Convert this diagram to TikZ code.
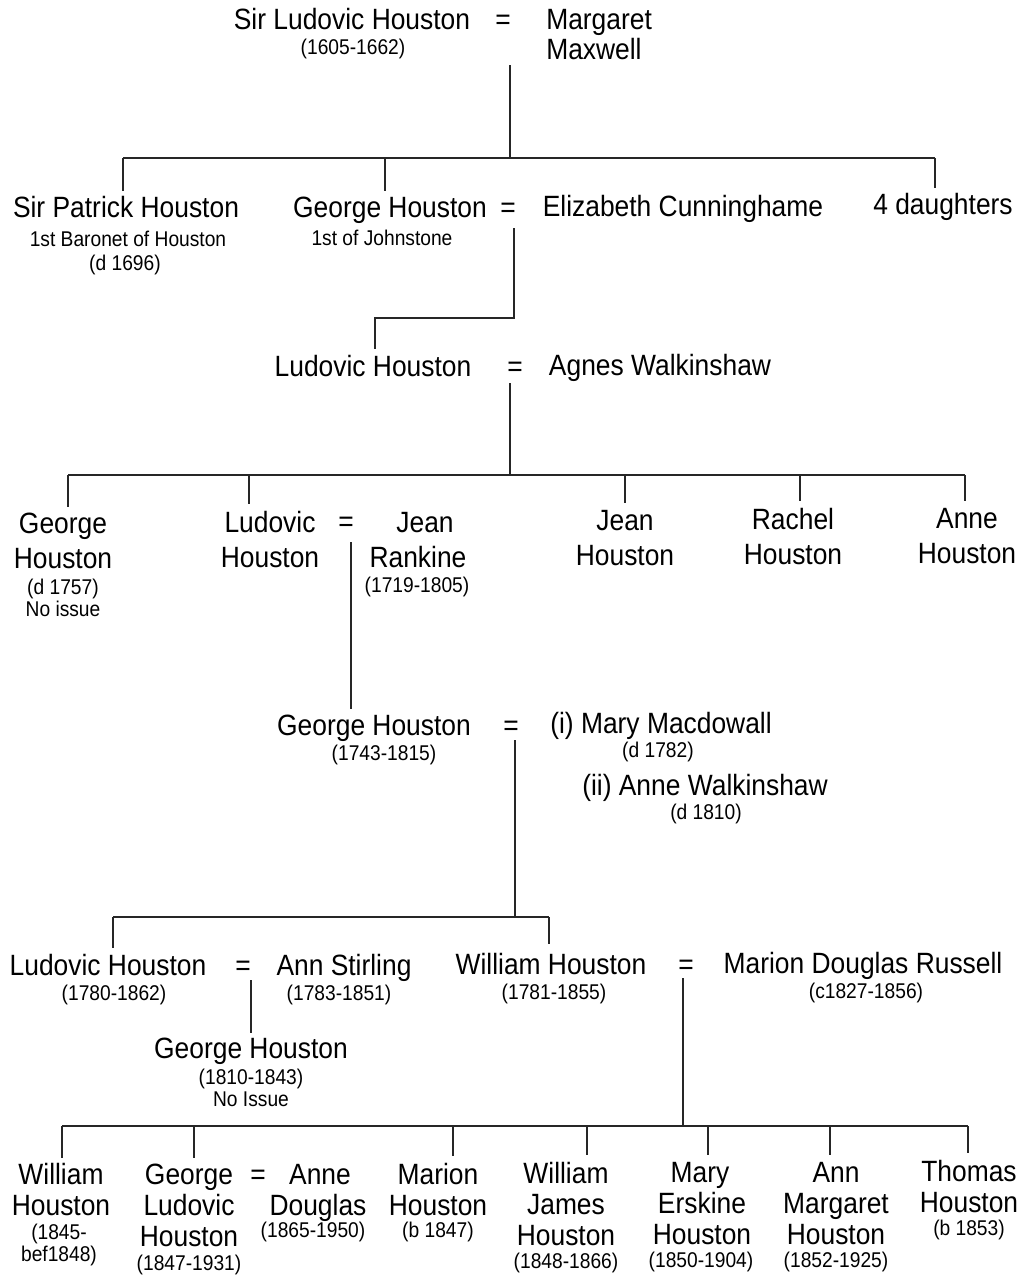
\documentclass[tikz,border=0pt]{standalone}
\usepackage{fontspec}
\setmainfont{Liberation Sans}[FakeStretch=0.9]
\begin{document}
\begin{tikzpicture}[x=0.75pt,y=-0.75pt,
  big/.style={font=\fontsize{22}{26}\selectfont,anchor=base,inner sep=0pt},
  sm/.style={font=\fontsize{16}{19}\selectfont,anchor=base,inner sep=0pt},
  ln/.style={line width=0.9pt,black!85}]
\useasboundingbox[fill=white] (0,0) rectangle (1024,1275);

% ---- Row 1
\node[big] (slh) at (352,29) {Sir Ludovic Houston};
\node[sm] (slhd) at (353,54) {(1605-1662)};
\node[big] (eq1) at (503,29) {=};
\node[big,anchor=base west] (mm1) at (546,29) {Margaret};
\node[big,anchor=base west] (mm2) at (546,59) {Maxwell};

% ---- Row 2
\node[big] (sph) at (126,217) {Sir Patrick Houston};
\node[sm] (sph2) at (128,246) {1st Baronet of Houston};
\node[sm] (sph3) at (125,270) {(d 1696)};
\node[big] (gh2) at (390,217) {George Houston};
\node[sm] (gh2b) at (382,245) {1st of Johnstone};
\node[big] (eq2) at (508,217) {=};
\node[big] (ec) at (683,216) {Elizabeth Cunninghame};
\node[big] (fd) at (943,214) {4 daughters};

% ---- Row 3
\node[big] (lh3) at (373,376) {Ludovic Houston};
\node[big] (eq3) at (515,376) {=};
\node[big] (aw3) at (660,375) {Agnes Walkinshaw};

% ---- Row 4
\node[big] (g4a) at (63,533) {George};
\node[big] (g4b) at (63,568) {Houston};
\node[sm] (g4c) at (63,594) {(d 1757)};
\node[sm] (g4d) at (63,616) {No issue};
\node[big] (l4a) at (270,532) {Ludovic};
\node[big] (l4b) at (270,567) {Houston};
\node[big] (eq4) at (346,531) {=};
\node[big] (jr4a) at (425,532) {Jean};
\node[big] (jr4b) at (418,567) {Rankine};
\node[sm] (jr4c) at (417,592) {(1719-1805)};
\node[big] (jh4a) at (625,530) {Jean};
\node[big] (jh4b) at (625,565) {Houston};
\node[big] (rh4a) at (793,529) {Rachel};
\node[big] (rh4b) at (793,564) {Houston};
\node[big] (ah4a) at (967,528) {Anne};
\node[big] (ah4b) at (967,563) {Houston};

% ---- Row 5
\node[big] (gh5) at (374,735) {George Houston};
\node[sm] (gh5d) at (384,760) {(1743-1815)};
\node[big] (eq5) at (511,735) {=};
\node[big] (mm5) at (661,733) {(i) Mary Macdowall};
\node[sm] (mm5d) at (658,757) {(d 1782)};
\node[big] (aw5) at (705,795) {(ii) Anne Walkinshaw};
\node[sm] (aw5d) at (706,819) {(d 1810)};

% ---- Row 6
\node[big] (lh6) at (108,975) {Ludovic Houston};
\node[sm] (lh6d) at (114,1000) {(1780-1862)};
\node[big] (eq6a) at (243,975) {=};
\node[big] (as6) at (344,975) {Ann Stirling};
\node[sm] (as6d) at (339,1000) {(1783-1851)};
\node[big] (wh6) at (551,974) {William Houston};
\node[sm] (wh6d) at (554,999) {(1781-1855)};
\node[big] (eq6b) at (686,974) {=};
\node[big] (mdr6) at (863,973) {Marion Douglas Russell};
\node[sm] (mdr6d) at (866,998) {(c1827-1856)};
\node[big] (gh6) at (251,1058) {George Houston};
\node[sm] (gh6d) at (251,1084) {(1810-1843)};
\node[sm] (gh6n) at (251,1106) {No Issue};

% ---- Row 7
\node[big] (w7a) at (61,1184) {William};
\node[big] (w7b) at (61,1215) {Houston};
\node[sm] (w7c) at (59,1239) {(1845-};
\node[sm] (w7d) at (59,1261) {bef1848)};
\node[big] (gl7a) at (189,1184) {George};
\node[big] (gl7b) at (189,1215) {Ludovic};
\node[big] (gl7c) at (189,1246) {Houston};
\node[sm] (gl7d) at (189,1270) {(1847-1931)};
\node[big] (eq7) at (258,1184) {=};
\node[big] (ad7a) at (320,1184) {Anne};
\node[big] (ad7b) at (318,1215) {Douglas};
\node[sm] (ad7c) at (313,1237) {(1865-1950)};
\node[big] (mh7a) at (438,1184) {Marion};
\node[big] (mh7b) at (438,1215) {Houston};
\node[sm] (mh7c) at (438,1237) {(b 1847)};
\node[big] (wj7a) at (566,1183) {William};
\node[big] (wj7b) at (566,1214) {James};
\node[big] (wj7c) at (566,1245) {Houston};
\node[sm] (wj7d) at (566,1268) {(1848-1866)};
\node[big] (me7a) at (700,1182) {Mary};
\node[big] (me7b) at (702,1213) {Erskine};
\node[big] (me7c) at (702,1244) {Houston};
\node[sm] (me7d) at (701,1267) {(1850-1904)};
\node[big] (am7a) at (836,1182) {Ann};
\node[big] (am7b) at (836,1213) {Margaret};
\node[big] (am7c) at (836,1244) {Houston};
\node[sm] (am7d) at (836,1267) {(1852-1925)};
\node[big] (th7a) at (969,1181) {Thomas};
\node[big] (th7b) at (969,1212) {Houston};
\node[sm] (th7c) at (969,1235) {(b 1853)};

% ---- Connectors
% family 1
\coordinate (f1s) at (510,65);
\coordinate (f1b) at (510,158);
\coordinate (f1L) at (123,158);
\coordinate (f1c) at (385,158);
\coordinate (f1R) at (935,158);
\draw[ln] (f1s) -- (f1b);
\draw[ln] (f1L) -- (f1R);
\draw[ln] (f1L) -- ([yshift=3pt]f1L |- sph.north);
\draw[ln] (f1c) -- ([yshift=4pt]f1c |- gh2.north);
\draw[ln] (f1R) -- ([yshift=3pt]f1R |- fd.north);
% family 2
\coordinate (f2s) at (514,228);
\coordinate (f2k) at (514,318);
\coordinate (f2j) at (375,318);
\draw[ln] (f2s) -- (f2k) -- (f2j) -- ([yshift=4pt]f2j |- lh3.north);
% family 3
\coordinate (f3s) at (510,383);
\coordinate (f3b) at (510,475);
\coordinate (f3L) at (68,475);
\coordinate (f3c2) at (249,475);
\coordinate (f3c3) at (625,475);
\coordinate (f3c4) at (800,475);
\coordinate (f3R) at (965,475);
\draw[ln] (f3s) -- (f3b);
\draw[ln] (f3L) -- (f3R);
\draw[ln] (f3L) -- ([yshift=4pt]f3L |- g4a.north);
\draw[ln] (f3c2) -- ([yshift=5pt]f3c2 |- l4a.north);
\draw[ln] (f3c3) -- ([yshift=5pt]f3c3 |- jh4a.north);
\draw[ln] (f3c4) -- ([yshift=5pt]f3c4 |- rh4a.north);
\draw[ln] (f3R) -- ([yshift=5pt]f3R |- ah4a.north);
% family 4
\coordinate (f4s) at (351,542);
\draw[ln] (f4s) -- ([yshift=4pt]f4s |- gh5.north);
% family 5
\coordinate (f5s) at (515,740);
\coordinate (f5b) at (515,917);
\coordinate (f5L) at (113,917);
\coordinate (f5R) at (549,917);
\draw[ln] (f5s) -- (f5b);
\draw[ln] (f5L) -- (f5R);
\draw[ln] (f5L) -- ([yshift=4pt]f5L |- lh6.north);
\draw[ln] (f5R) -- ([yshift=6pt]f5R |- wh6.north);
% family 6
\coordinate (f6s) at (251,980);
\draw[ln] (f6s) -- ([yshift=3pt]f6s |- gh6.north);
% family 7
\coordinate (f7s) at (683,978);
\coordinate (f7b) at (683,1126);
\coordinate (f7L) at (62,1126);
\coordinate (f7c2) at (194,1126);
\coordinate (f7c3) at (453,1126);
\coordinate (f7c4) at (587,1126);
\coordinate (f7c5) at (708,1126);
\coordinate (f7c6) at (830,1126);
\coordinate (f7R) at (968,1126);
\draw[ln] (f7s) -- (f7b);
\draw[ln] (f7L) -- (f7R);
\draw[ln] (f7L) -- ([yshift=3pt]f7L |- w7a.north);
\draw[ln] (f7c2) -- ([yshift=4pt]f7c2 |- gl7a.north);
\draw[ln] (f7c3) -- ([yshift=5pt]f7c3 |- mh7a.north);
\draw[ln] (f7c4) -- ([yshift=5pt]f7c4 |- wj7a.north);
\draw[ln] (f7c5) -- ([yshift=5pt]f7c5 |- me7a.north);
\draw[ln] (f7c6) -- ([yshift=5pt]f7c6 |- am7a.north);
\draw[ln] (f7R) -- ([yshift=5pt]f7R |- th7a.north);
\end{tikzpicture}
\end{document}
